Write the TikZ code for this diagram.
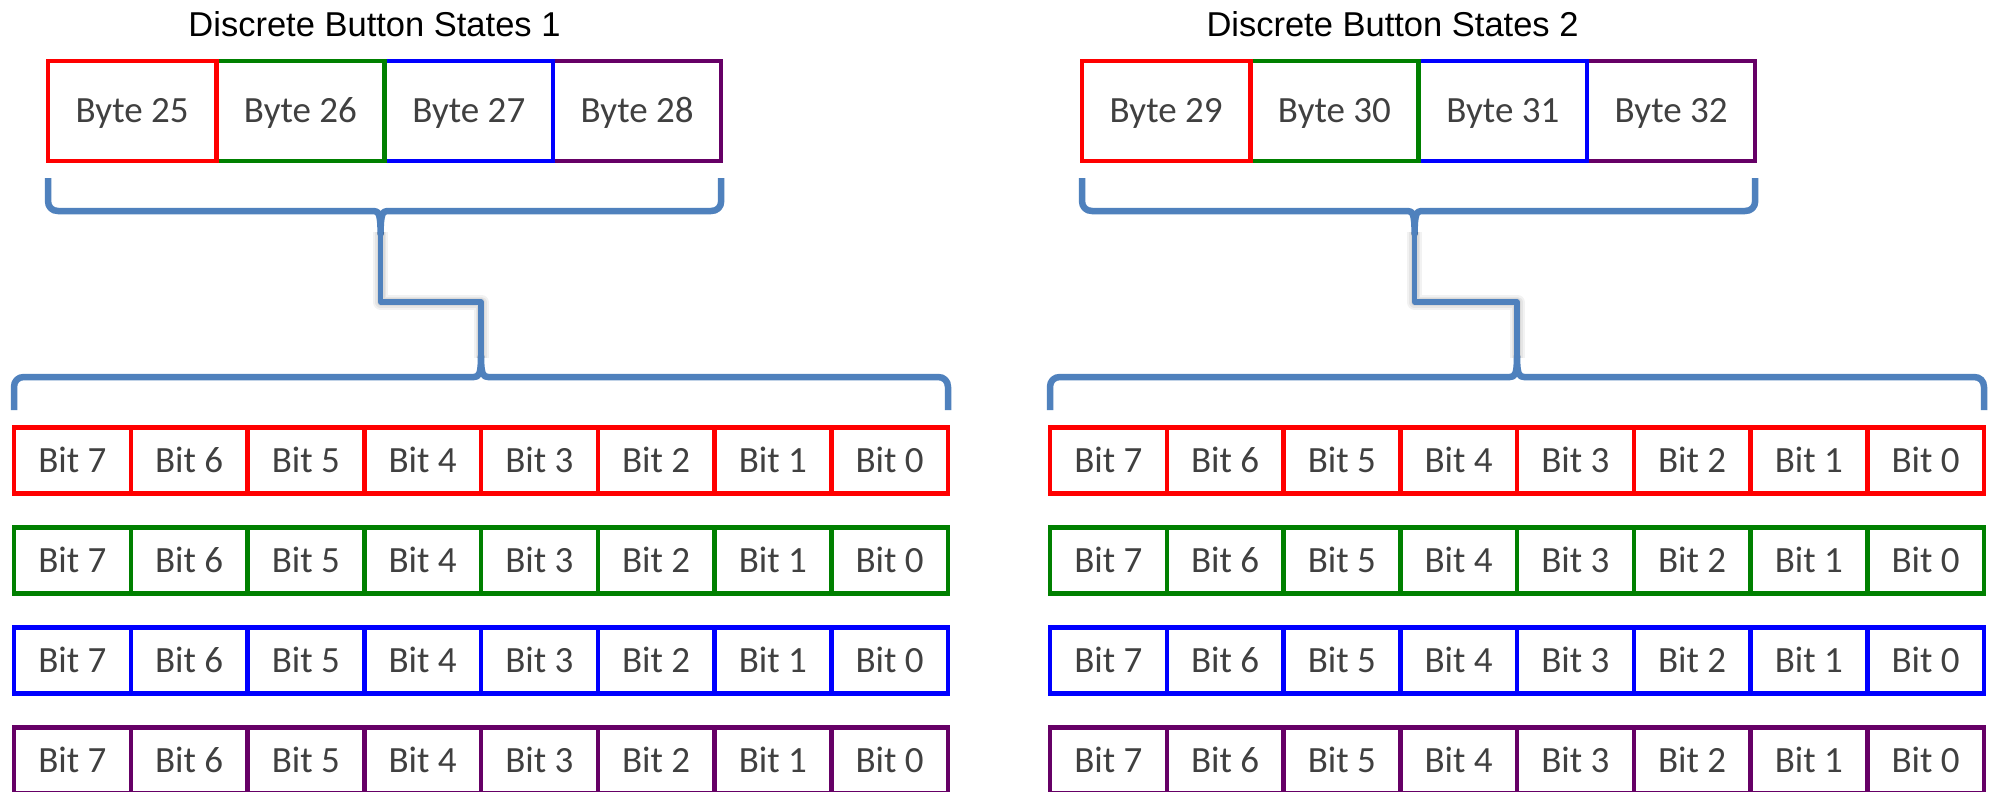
\documentclass[tikz,border=0pt]{standalone}
\usepackage{fontspec}
\setmainfont{Carlito}
\newfontfamily\titlefont{Liberation Sans}

\definecolor{bytered}{RGB}{255,0,0}
\definecolor{bytegreen}{RGB}{0,128,0}
\definecolor{byteblue}{RGB}{0,0,255}
\definecolor{bytepurple}{RGB}{102,0,102}
\definecolor{bracecol}{RGB}{79,129,189}
\definecolor{celltext}{RGB}{64,64,64}

\tikzset{
  cell/.style={draw, line width=4.5pt, inner sep=0pt, text=celltext,
    font=\fontsize{37}{44}\selectfont, text height=23.8pt, text depth=0pt},
  bytebox/.style={cell, minimum width=168.3pt, minimum height=100pt},
  bitbox/.style={cell, minimum width=116.75pt, minimum height=66pt},
  heading/.style={font=\titlefont\fontsize{34.5}{40}\selectfont, text=black,
    anchor=base, inner sep=0pt},
  brace/.style={draw=bracecol, line width=6.5pt, line join=round, line cap=butt},
  link/.style={draw=bracecol, line width=5.5pt, line join=round},
  linkshadow/.style={draw=black, line join=round, opacity=0.05},
}

% One register group: title, four byte boxes, a brace, an elbow link,
% a second brace and the four rows of bits.
% #1 prefix, #2 left x of byte row, #3 left x of bit rows,
% #4 title, #5 title centre x, #6 first byte number
\newcommand\bytegroup[6]{%
  \node[heading] (#1title) at (#5, 37) {#4};
  % byte boxes, drawn right to left so each left border stays on top
  \foreach \i/\c in {3/bytepurple,2/byteblue,1/bytegreen,0/bytered} {
    \pgfmathtruncatemacro\n{#6+\i}
    \node[bytebox, draw=\c] (#1byte\i) at ({#2+(\i+0.5)*168.3}, 111) {Byte \n};
  }
  % bit rows
  \foreach \r/\c in {0/bytered,1/bytegreen,2/byteblue,3/bytepurple} {
    \foreach \b in {0,...,7} {
      \pgfmathtruncatemacro\k{7-\b}
      \node[bitbox, draw=\c] (#1bit\r-\b) at ({#3+(\b+0.5)*116.75}, {460.5+100*\r}) {Bit \k};
    }
  }
  % upper brace under the byte boxes
  \pgfmathsetmacro\xl{#2}
  \pgfmathsetmacro\xr{#2+4*168.3}
  \pgfmathsetmacro\xm{#2+2*168.3-4}
  \draw[brace] (\xl,178) -- (\xl,201) .. controls (\xl,207) and ({\xl+4},211) .. ({\xl+10},211)
    -- ({\xm-7},211) .. controls ({\xm-2},211) and (\xm,214) .. (\xm,234)
    .. controls (\xm,214) and ({\xm+2},211) .. ({\xm+7},211)
    -- ({\xr-10},211) .. controls ({\xr-4},211) and (\xr,207) .. (\xr,201) -- (\xr,178);
  \coordinate (#1topcusp) at (\xm,232);
  \coordinate (#1bend) at (\xm,302);
  % lower brace over the bit rows
  \pgfmathsetmacro\bl{#3}
  \pgfmathsetmacro\br{#3+8*116.75}
  \pgfmathsetmacro\bm{#3+4*116.75}
  \draw[brace] (\bl,410) -- (\bl,387) .. controls (\bl,381) and ({\bl+4},377) .. ({\bl+10},377)
    -- ({\bm-7},377) .. controls ({\bm-2},377) and (\bm,374) .. (\bm,356)
    .. controls (\bm,374) and ({\bm+2},377) .. ({\bm+7},377)
    -- ({\br-10},377) .. controls ({\br-4},377) and (\br,381) .. (\br,387) -- (\br,410);
  \coordinate (#1botcusp) at (\bm,358);
  % elbow link between the two braces, with its soft shadow
  \foreach \w in {15,11,8} {
    \draw[linkshadow, line width=\w pt, shift={(-1,3)}]
      (#1topcusp) -- (#1bend) -| (#1botcusp);
  }
  \draw[link] (#1topcusp) -- (#1bend) -| (#1botcusp);
}

\begin{document}
\begin{tikzpicture}[x=1pt, y=-1pt]
  \useasboundingbox (0,0) rectangle (1990,792);
  \clip (0,0) rectangle (1990,792);
  \fill[white] (0,0) rectangle (1990,792);
  \bytegroup{a}{48}{14}{Discrete Button States 1}{374.5}{25}
  \bytegroup{b}{1082}{1050}{Discrete Button States 2}{1392.5}{29}
\end{tikzpicture}
\end{document}
